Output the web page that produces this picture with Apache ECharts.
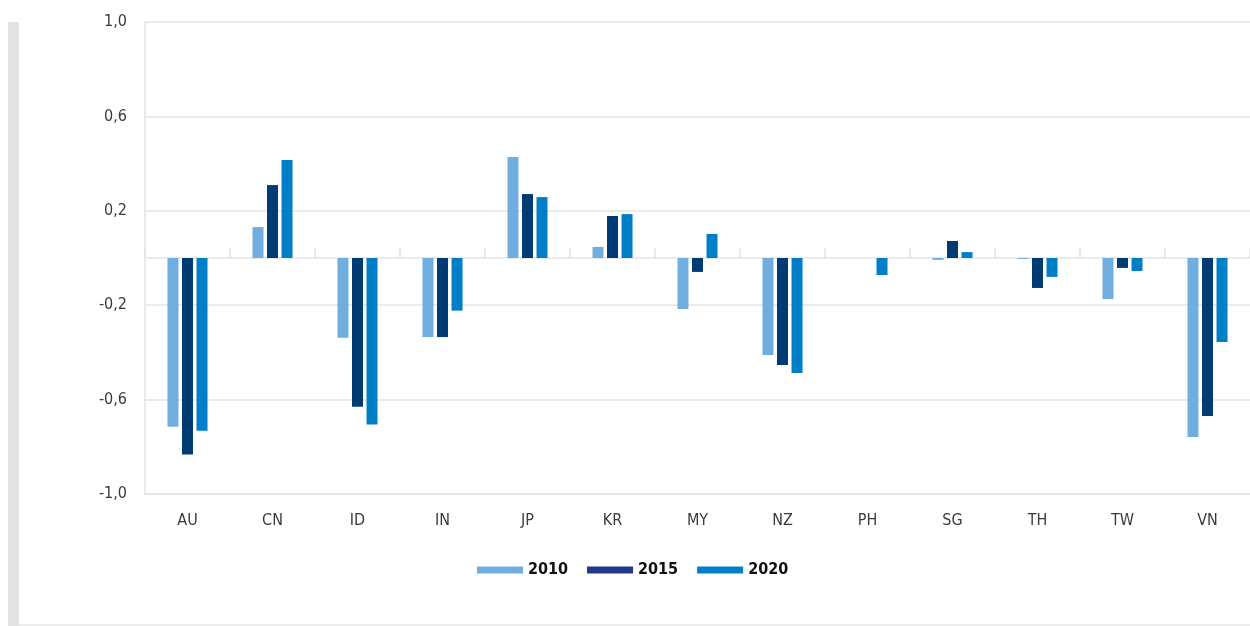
<!DOCTYPE html>
<html>
<head>
<meta charset="utf-8">
<script src="https://cdn.jsdelivr.net/npm/echarts@6/dist/echarts.min.js"></script>
<style>
  html, body { margin: 0; padding: 0; background: #fff; }
  #chart { width: 1250px; height: 626px; }
</style>
</head>
<body>
<div id="chart"></div>
<script>
// categories and values
var countries = ['AU', 'CN', 'ID', 'IN', 'JP', 'KR', 'MY', 'NZ', 'PH', 'SG', 'TH', 'TW', 'VN'];
var years = ['2010', '2015', '2020'];
var values2010 = [-0.715, 0.131, -0.338, -0.335, 0.428, 0.047, -0.216, -0.411, 0, -0.008, -0.004, -0.174, -0.758];
var values2015 = [-0.833, 0.309, -0.630, -0.335, 0.271, 0.178, -0.059, -0.453, 0, 0.072, -0.127, -0.042, -0.669];
var values2020 = [-0.732, 0.415, -0.706, -0.223, 0.258, 0.186, 0.102, -0.487, -0.072, 0.025, -0.080, -0.055, -0.356];
var yTicks = [-1, -0.6, -0.2, 0.2, 0.6, 1];

var barColors = ['#70AEE0', '#003B73', '#007EC8'];
var legendColors = ['#70AEE0', '#22398B', '#007EC8'];
var gridGray = '#e4e4e4';
var font = '"Liberation Sans Narrow", "DejaVu Sans Condensed", sans-serif';

var chart = echarts.init(document.getElementById('chart'));

function bar(name, data, i) {
    return {
        name: name,
        type: 'bar',
        xAxisIndex: 0,
        data: data,
        barWidth: 11,
        barGap: '32%',
        itemStyle: { color: barColors[i] }
    };
}

var option = {
    backgroundColor: '#fff',
    animation: false,
    textStyle: { fontFamily: font },
    graphic: [
        // grey strip on the left and thin line at the bottom
        { type: 'rect', left: 8, top: 22, shape: { width: 11, height: 604 }, style: { fill: '#e3e3e3' } },
        { type: 'rect', left: 19, top: 624, shape: { width: 1231, height: 2 }, style: { fill: '#ececec' } }
    ],
    grid: { left: 145, right: 0, top: 22, bottom: 132 },
    legend: {
        left: 477,
        top: 562,
        padding: 0,
        itemWidth: 46,
        itemHeight: 7,
        itemGap: 19,
        icon: 'rect',
        textStyle: { fontFamily: font, fontSize: 16, fontWeight: 'bold', color: '#111' },
        data: years.map(function (y, i) {
            return { name: y, itemStyle: { color: legendColors[i] } };
        })
    },
    xAxis: [
        {
            type: 'category',
            data: countries,
            axisLine: { onZero: false, lineStyle: { color: gridGray, width: 1.5 } },
            axisTick: { show: false },
            axisLabel: { fontFamily: font, fontSize: 16, color: '#3a3a3a', margin: 19 }
        },
        {
            type: 'category',
            data: countries,
            position: 'bottom',
            axisLine: { onZero: true, lineStyle: { color: gridGray, width: 1.5 } },
            axisTick: { show: true, inside: true, length: 10, lineStyle: { color: gridGray, width: 1.5 } },
            axisLabel: { show: false }
        }
    ],
    yAxis: {
        type: 'value',
        min: -1,
        max: 1,
        axisLine: { show: true, lineStyle: { color: gridGray, width: 1.5 } },
        axisTick: { show: false, customValues: yTicks },
        splitLine: { show: true, lineStyle: { color: gridGray, width: 1.5 } },
        axisLabel: {
            customValues: yTicks,
            fontFamily: font,
            fontSize: 16,
            color: '#3a3a3a',
            margin: 18,
            formatter: function (v) {
                return v.toFixed(1).replace('.', ',');
            }
        }
    },
    series: [
        bar(years[0], values2010, 0),
        bar(years[1], values2015, 1),
        bar(years[2], values2020, 2)
    ]
};

chart.setOption(option);
</script>
</body>
</html>
